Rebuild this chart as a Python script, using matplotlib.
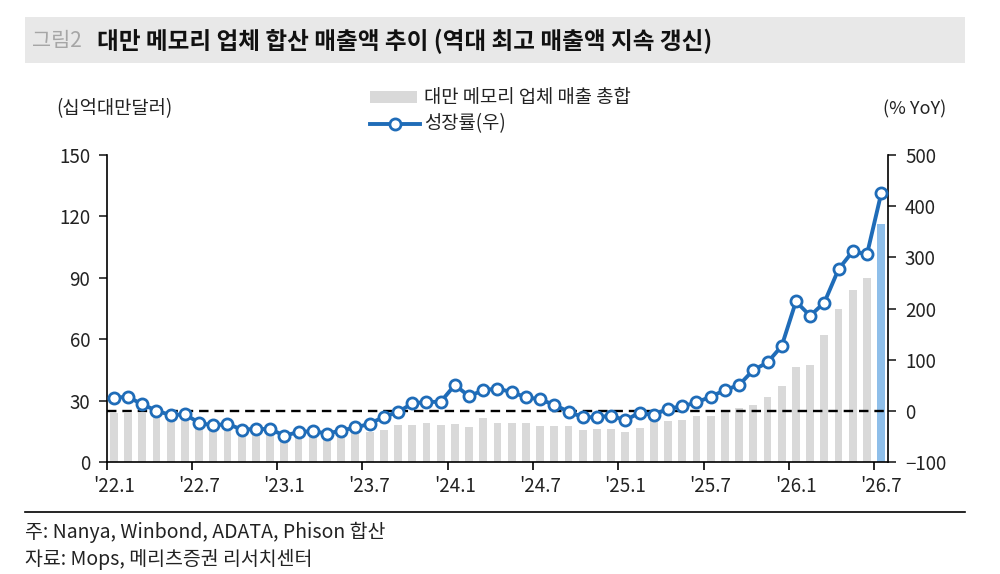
import matplotlib
matplotlib.use('Agg')
import matplotlib.pyplot as plt
import numpy as np
from matplotlib.patches import Rectangle
from matplotlib.lines import Line2D

plt.rcParams['font.family'] = ['Noto Sans CJK KR', 'DejaVu Sans']

# ---- data ----
months = [f"'{y}.{m}" for y in range(22, 27) for m in range(1, 13)][:55]
revenue = [24.0, 24.0, 24.3, 24.0, 23.0, 22.5, 19.6, 17.9, 18.2, 15.6, 16.0, 15.3,
           12.5, 13.6, 15.4, 13.6, 14.2, 15.3, 14.7, 16.0, 18.1, 18.2, 19.0, 18.0,
           18.6, 17.4, 21.8, 19.4, 19.4, 19.3, 17.9, 17.9, 17.8, 15.8, 16.4, 16.3,
           15.0, 16.9, 20.2, 20.2, 20.5, 22.6, 22.6, 24.8, 26.7, 28.0, 31.8, 37.0,
           46.7, 47.6, 61.9, 74.9, 83.9, 90.2, 116.4]
growth = [26, 28, 13, 1, -8, -6, -23, -28, -25, -36, -35, -35,
          -48, -41, -39, -44, -38, -32, -25, -11, -2, 15, 18, 18,
          51, 29, 41, 44, 37, 27, 23, 12, -1, -12, -12, -9,
          -18, -3, -8, 5, 9, 17, 28, 41, 51, 80, 95, 127,
          214, 186, 212, 277, 312, 306, 425]
tick_labels = ["'22.1", "'22.7", "'23.1", "'23.7", "'24.1", "'24.7",
               "'25.1", "'25.7", "'26.1", "'26.7"]
bar_label = '대만 메모리 업체 매출 총합'
line_label = '성장률(우)'

GRAY = '#d9d9d9'
BLUE = '#1f6cb8'
LIGHTBLUE = '#8fbfea'
TXT = '#222222'

fig = plt.figure(figsize=(10, 5.74), dpi=100)

# title band
fig.patches.append(Rectangle((0.025, 1 - 63/574), 0.94, 46/574, transform=fig.transFigure,
                             facecolor='#e8e8e8', edgecolor='none', zorder=0))
fig.text(0.032, 1 - 41/574, '그림2', fontsize=15, color='#a6a6a6', va='center', ha='left')
fig.text(0.097, 1 - 41/574, '대만 메모리 업체 합산 매출액 추이 (역대 최고 매출액 지속 갱신)',
         fontsize=17, fontweight='bold', color='#111111', va='center', ha='left')

ax = fig.add_axes([0.1067, 1 - 462.3/574, 0.7816, 307.3/574])
x = np.arange(len(revenue))
colors = [GRAY] * (len(revenue) - 1) + [LIGHTBLUE]
ax.bar(x, revenue, width=0.55, color=colors, zorder=1)
ax.set_xlim(-0.5, len(revenue) - 0.5)
ax.set_ylim(0, 150)
ax.set_yticks(np.arange(0, 151, 30))

major_pos = [i - 0.5 for i in range(0, len(revenue), 6)]
ax.set_xticks(major_pos)
ax.set_xticklabels([''] * len(major_pos))
ax.set_xticks(list(range(0, len(revenue), 6)), minor=True)
ax.set_xticklabels(tick_labels, minor=True)
ax.tick_params(axis='x', which='minor', length=0, pad=10, labelsize=13.5, colors=TXT)
ax.tick_params(axis='x', which='major', length=6, direction='out', width=1.2)
ax.tick_params(axis='y', length=6, direction='out', width=1.2, labelsize=13.5, colors=TXT, pad=6)
for s in ['top', 'right']:
    ax.spines[s].set_visible(False)
for s in ['left', 'bottom']:
    ax.spines[s].set_linewidth(1.2)
    ax.spines[s].set_color('black')

ax2 = ax.twinx()
ax2.set_ylim(-100, 500)
ax2.set_yticks(np.arange(-100, 501, 100))
ax2.tick_params(axis='y', length=6, direction='out', width=1.2, labelsize=13.5, colors=TXT, pad=6)
ax2.axhline(0, color='black', linestyle=(0, (4, 2.5)), linewidth=1.7, zorder=2)
ax2.plot(x, growth, color=BLUE, linewidth=2.8, marker='o', markersize=8,
         markerfacecolor='white', markeredgecolor=BLUE, markeredgewidth=2.0, zorder=3)
for s in ['top', 'left', 'bottom']:
    ax2.spines[s].set_visible(False)
ax2.spines['right'].set_linewidth(1.2)
ax2.spines['right'].set_color('black')

# axis unit labels
fig.text(0.056, 1 - 109/574, '(십억대만달러)', fontsize=13.5, va='center', ha='left', color=TXT)
fig.text(0.946, 1 - 109/574, '(% YoY)', fontsize=13, va='center', ha='right', color=TXT)

# legend (manual)
fig.patches.append(Rectangle((0.370, 1 - 103/574), 0.047, 12/574, transform=fig.transFigure,
                             facecolor=GRAY, edgecolor='none'))
fig.text(0.424, 1 - 97/574, bar_label, fontsize=13.5, va='center', ha='left', color=TXT)
fig.lines.append(Line2D([0.370, 0.420], [1 - 124/574, 1 - 124/574], transform=fig.transFigure,
                        color=BLUE, linewidth=2.8))
fig.lines.append(Line2D([0.395], [1 - 124/574], transform=fig.transFigure, color=BLUE,
                        marker='o', markersize=8, markerfacecolor='white',
                        markeredgecolor=BLUE, markeredgewidth=2.0, linestyle='none'))
fig.text(0.424, 1 - 124/574, line_label, fontsize=13.5, va='center', ha='left', color=TXT)

# footer
fig.lines.append(Line2D([0.025, 0.965], [1 - 512/574, 1 - 512/574], transform=fig.transFigure,
                        color='black', linewidth=1.2))
fig.text(0.025, 1 - 532/574, '주: Nanya, Winbond, ADATA, Phison 합산', fontsize=14,
         va='center', ha='left', color=TXT)
fig.text(0.025, 1 - 559/574, '자료: Mops, 메리츠증권 리서치센터', fontsize=14,
         va='center', ha='left', color=TXT)

fig.savefig('out.png', dpi=100)
